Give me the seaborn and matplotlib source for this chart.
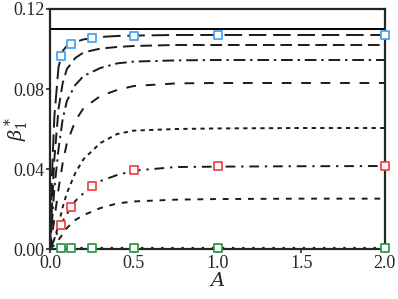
import numpy as np
import pandas as pd
import matplotlib
matplotlib.use("Agg")
import matplotlib.pyplot as plt
import seaborn as sns

# values
A_grid = [0, 0.01, 0.025, 0.05, 0.075, 0.1, 0.15, 0.2, 0.3, 0.4, 0.5, 0.75, 1.0, 1.5, 2.0]

beta_c1 = [0, 0.035, 0.066, 0.091, 0.099, 0.1015, 0.1035, 0.1048, 0.106, 0.1065, 0.1067, 0.107, 0.107, 0.107, 0.107]
beta_c2 = [0, 0.02, 0.045, 0.07, 0.083, 0.090, 0.0955, 0.0983, 0.1002, 0.101, 0.1015, 0.102, 0.102, 0.102, 0.102]
beta_c3 = [0, 0.012, 0.03, 0.05, 0.065, 0.074, 0.082, 0.0865, 0.0905, 0.0928, 0.0937, 0.0943, 0.0945, 0.0945, 0.0945]
beta_c4 = [0, 0.006, 0.015, 0.03, 0.043, 0.053, 0.064, 0.0705, 0.0765, 0.0795, 0.0815, 0.0828, 0.083, 0.083, 0.083]
beta_c5 = [0, 0.002, 0.005, 0.012, 0.021, 0.028, 0.038, 0.045, 0.053, 0.0575, 0.0592, 0.060, 0.0603, 0.0605, 0.0605]
beta_c6 = [0, 0.002, 0.005, 0.0095, 0.014, 0.0175, 0.024, 0.028, 0.034, 0.037, 0.0392, 0.041, 0.0412, 0.0414, 0.0415]
beta_c7 = [0, 0.001, 0.002, 0.0045, 0.0075, 0.0105, 0.0145, 0.017, 0.0205, 0.0228, 0.0238, 0.0247, 0.025, 0.0252, 0.0252]
beta_c8 = [0, 0.0003, 0.0005, 0.0006, 0.0006, 0.0006, 0.0006, 0.0006, 0.0006, 0.0006, 0.0006, 0.0006, 0.0006, 0.0006, 0.0006]
beta_limit = 0.110

A_marks = [0.0625, 0.125, 0.25, 0.5, 1.0, 2.0]
beta_blue = [0.0965, 0.1025, 0.1055, 0.1065, 0.107, 0.107]
beta_red = [0.012, 0.021, 0.0315, 0.0395, 0.0413, 0.0415]
beta_green = [0.0006, 0.0006, 0.0007, 0.0007, 0.0007, 0.0007]

sns.set_style("ticks")
plt.rcParams["font.family"] = ["Liberation Serif", "DejaVu Serif"]
plt.rcParams["mathtext.fontset"] = "dejavuserif"

fig = plt.figure(figsize=(3.98, 2.99), dpi=100)
ax = fig.add_axes([0.126, 0.167, 0.841, 0.803])

lw = 1.4
sns.lineplot(x=[0, 2.0], y=[beta_limit, beta_limit], color="black", lw=lw, ax=ax)
curves = [
    (beta_c1, (0, (9, 3.5))),
    (beta_c2, (0, (6, 3))),
    (beta_c3, (0, (6, 2.5, 1.2, 2.5))),
    (beta_c4, (0, (5, 5))),
    (beta_c5, (0, (2.2, 2.2))),
    (beta_c6, (0, (5, 3, 1.2, 3))),
    (beta_c7, (0, (3, 3.5))),
    (beta_c8, (0, (1.2, 4))),
]
for vals, ls in curves:
    df = pd.DataFrame({"A": A_grid, "beta": vals})
    sns.lineplot(data=df, x="A", y="beta", color="#1a1a1a", lw=lw, linestyle=ls, ax=ax)

for vals, col in [(beta_blue, "#4aa3f5"), (beta_red, "#f04848"), (beta_green, "#2f9a4a")]:
    sns.scatterplot(x=A_marks, y=vals, marker="s", s=38, facecolor="white",
                    edgecolor=col, linewidth=1.3, zorder=5, clip_on=False, ax=ax)

ax.set_xlim(0, 2.0)
ax.set_ylim(0, 0.12)
ax.set_xticks([0.0, 0.5, 1.0, 1.5, 2.0])
ax.set_xticklabels(["0.0", "0.5", "1.0", "1.5", "2.0"])
ax.set_yticks([0.0, 0.04, 0.08, 0.12])
ax.set_yticklabels(["0.00", "0.04", "0.08", "0.12"])
ax.tick_params(labelsize=13, length=3, width=1.2, pad=1)
for sp in ax.spines.values():
    sp.set_linewidth(1.6)
    sp.set_visible(True)
ax.set_xlabel("$A$", fontsize=14)
ax.set_ylabel(r"$\beta_1^*$", fontsize=14)
ax.yaxis.label.set_va("center")
ax.xaxis.set_label_coords(0.5, -0.095)
ax.yaxis.set_label_coords(-0.1, 0.5)

fig.savefig("out.png", dpi=100)
